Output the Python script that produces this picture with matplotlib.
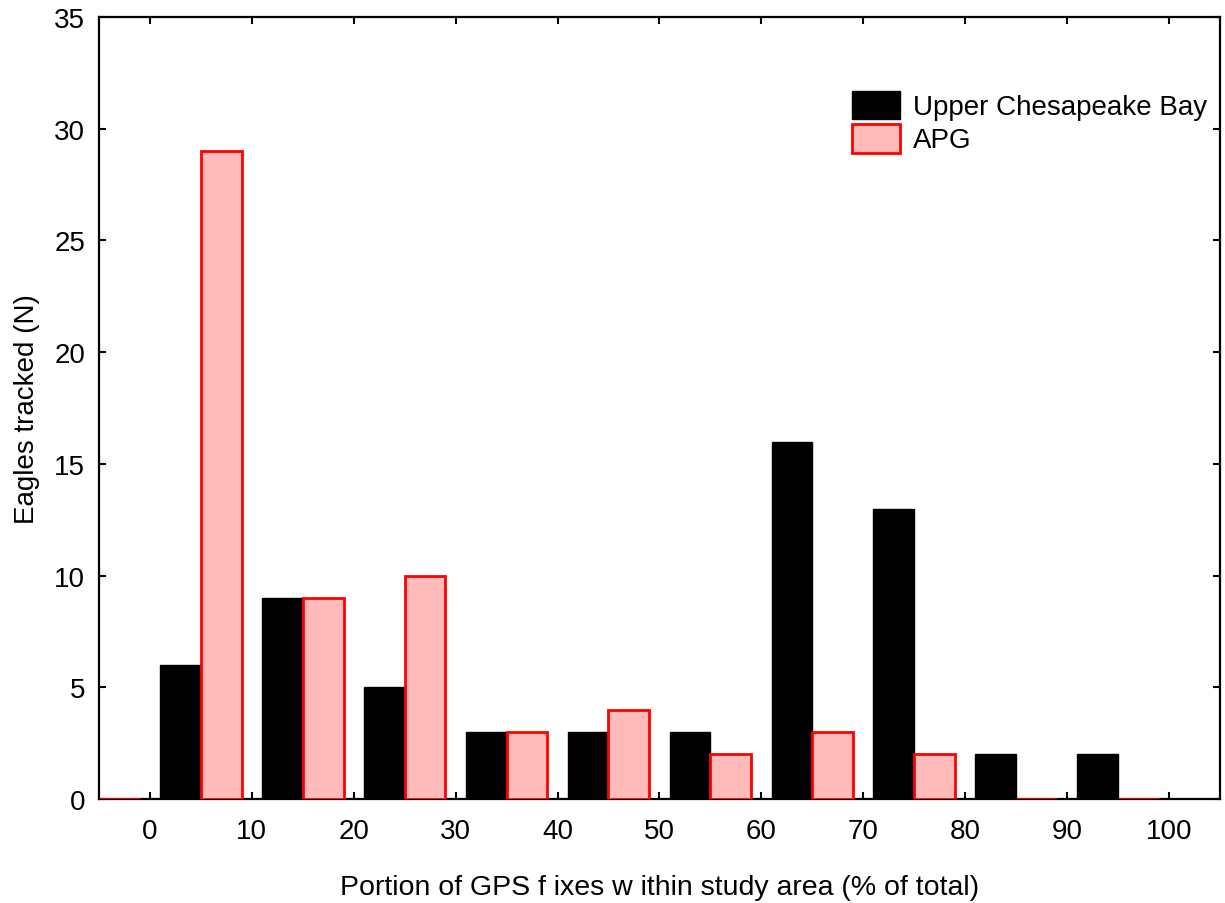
import numpy as np
import matplotlib.pyplot as plt

plt.rcParams['font.family'] = ['Liberation Sans', 'DejaVu Sans']

# bin starts (% of GPS fixes) and eagle counts per bin
bins = [-10, 0, 10, 20, 30, 40, 50, 60, 70, 80, 90, 100]
chesapeake = [0, 6, 9, 5, 3, 3, 3, 16, 13, 2, 2, 0]
apg = [0, 29, 9, 10, 3, 4, 2, 3, 2, 0, 0, 0]

xticks = [0, 10, 20, 30, 40, 50, 60, 70, 80, 90, 100]
yticks = [0, 5, 10, 15, 20, 25, 30, 35]

fig = plt.figure(figsize=(12.25, 9.04), dpi=100)
ax = fig.add_axes([0.0808, 0.115, 0.915, 0.865])

x = np.array(bins)
ax.bar(x + 1, chesapeake, width=4, align='edge', color='black',
       edgecolor='black', linewidth=1, label='Upper Chesapeake Bay', zorder=2)
ax.bar(x + 5, apg, width=4, align='edge', color='#ffbaba',
       edgecolor='#ff0000', linewidth=2, label='APG', zorder=2)

ax.set_xlim(-5, 105)
ax.set_ylim(0, 35)
ax.set_xticks(xticks)
ax.set_yticks(yticks)

for s in ax.spines.values():
    s.set_linewidth(1.6)
    s.set_zorder(1)
ax.tick_params(direction='in', length=5, width=1.5, labelsize=20,
               top=True, right=True, pad=14)
ax.tick_params(axis='y', pad=10)

ax.set_xlabel('Portion of GPS f ixes w ithin study area (% of total)',
              fontsize=20.5, labelpad=21)
ax.set_ylabel('Eagles tracked (N)', fontsize=20, labelpad=10)

ax.legend(loc='upper left', bbox_to_anchor=(0.672, 0.906), frameon=False,
          fontsize=20, handlelength=1.73, handleheight=1.22,
          handletextpad=0.47, labelspacing=0.12, borderpad=0,
          borderaxespad=0)

fig.savefig('out.png', dpi=100)
